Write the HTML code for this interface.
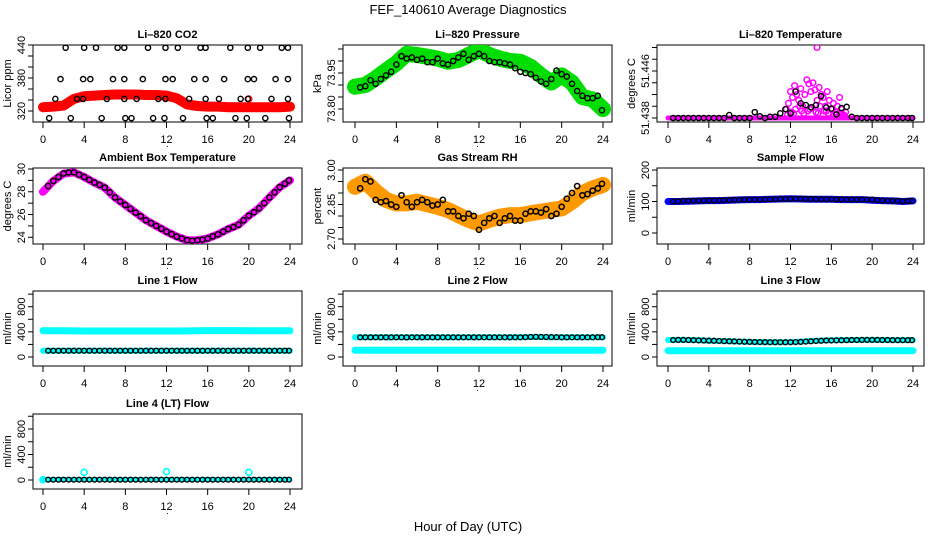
<!DOCTYPE html>
<html><head><meta charset="utf-8"><style>
html,body{margin:0;padding:0;background:#fff;}
svg{display:block;font-family:"Liberation Sans",Arial,sans-serif;}
</style></head><body>
<svg id="chart" width="936" height="540" viewBox="0 0 936 540" xmlns="http://www.w3.org/2000/svg">
<rect width="936" height="540" fill="#fff"/>
<text x="468" y="14" text-anchor="middle" font-size="13">FEF_140610  Average Diagnostics</text>
<text x="468" y="531" text-anchor="middle" font-size="13">Hour of Day (UTC)</text>
</svg>
<script>
// ---------- data ----------
const bandHours = [0,1,2,3,4,5,6,7,8,9,10,11,12,13,14,15,16,17,18,19,20,21,22,23,24];
const markHours = [0.5,1,1.5,2,2.5,3,3.5,4,4.5,5,5.5,6,6.5,7,7.5,8,8.5,9,9.5,10,10.5,11,11.5,12,12.5,13,13.5,14,14.5,15,15.5,16,16.5,17,17.5,18,18.5,19,19.5,20,20.5,21,21.5,22,22.5,23,23.5,23.9];
const xTicks = [0,4,8,12,16,20,24];

const co2Band = [327,328,330,342,347,348,349,350,350,350,349,349,348,343,332,329,328,328,327,327,327,327,327,327,328];
const co2ScatterHours = [2.2,4.0,5.15,7.25,7.9,10.2,11.9,13.1,15.3,15.8,18.2,19.9,21.1,23.2,23.8, 1.7,3.9,4.6,6.8,7.9,9.7,11.9,12.6,14.7,15.8,17.6,19.9,20.5,22.6,23.8, 1.2,3.3,3.9,6.2,7.9,9.1,11.2,11.9,14.2,15.8,17.1,19.2,19.9,22.2,23.8, 0.6,2.7,5.7,8.0,8.6,10.7,11.8,13.6,15.9,16.5,18.7,19.8,21.6,23.9];
const co2ScatterVals = [435,435,435,435,435,435,435,435,435,435,435,435,435,435,435, 378,378,378,378,378,378,378,378,378,378,378,378,378,378,378, 342,342,342,342,342,342,342,342,342,342,342,342,342,342,342, 307,307,307,307,307,307,307,307,307,307,307,307,307,307];

const presBand = [73.893,73.90,73.928,73.96,73.99,74.03,74.025,74.018,74.01,73.997,74.004,74.025,74.046,74.025,74.01,74.0,73.997,73.976,73.94,73.91,73.94,73.91,73.85,73.84,73.80];
const presMarks = [73.89,73.895,73.92,73.905,73.925,73.94,73.955,73.985,74.02,74.01,74.015,74.005,74.01,73.995,73.995,74.01,73.99,73.985,74.0,74.015,74.03,74.005,74.02,74.03,74.02,74.0,73.995,73.995,73.99,73.985,73.97,73.955,73.95,73.945,73.93,73.915,73.905,73.925,73.96,73.945,73.935,73.905,73.875,73.855,73.845,73.845,73.855,73.795];

const tempBand = [51.438,51.438,51.438,51.438,51.438,51.438,51.438,51.438,51.438,51.438,51.438,51.438,51.438,51.438,51.438,51.438,51.438,51.438,51.438,51.438,51.438,51.438,51.438,51.438,51.438];
const tempMarks = [51.438,51.438,51.438,51.438,51.438,51.438,51.438,51.438,51.438,51.438,51.438,51.4385,51.438,51.438,51.438,51.438,51.439,51.4383,51.438,51.4382,51.4382,51.4388,51.4395,51.4388,51.4425,51.4405,51.4402,51.4398,51.4402,51.4417,51.4398,51.4396,51.4386,51.4397,51.4399,51.4382,51.438,51.438,51.438,51.438,51.438,51.438,51.438,51.438,51.438,51.438,51.438,51.438];
const tempScatterHours = [11.6,11.8,12.0,12.2,12.4,12.6,12.8,13.0,13.2,13.4,13.6,13.8,14.0,14.2,14.4,14.6,14.8,15.0,15.2,15.4,15.6,15.8,16.0,16.2,16.4,16.6,16.8,17.0,17.2,17.4, 11.7,12.1,12.5,12.9,13.3,13.7,14.1,14.5,14.9,15.3,15.7,16.1,16.5,16.9,17.3, 12.3,13.1,13.9,14.7,15.5,16.3,17.1, 14.6];
const tempScatterVals = [51.4395,51.4405,51.4425,51.4415,51.4435,51.442,51.4410,51.4430,51.4400,51.4420,51.4445,51.4438,51.4425,51.4440,51.4428,51.4410,51.4432,51.4420,51.4415,51.4400,51.4425,51.4410,51.4395,51.4405,51.4390,51.4400,51.4415,51.4395,51.4385,51.4390, 51.4385,51.4390,51.4395,51.4400,51.4388,51.4392,51.4398,51.4390,51.4400,51.4392,51.4388,51.4395,51.4390,51.4386,51.4384, 51.4388,51.4392,51.4395,51.4388,51.4392,51.4386,51.4384, 51.4500];

const ambBand = [28.0,28.95,29.6,29.7,29.3,28.8,28.36,27.5,26.84,26.17,25.5,25.0,24.5,24.06,23.74,23.74,23.9,24.26,24.73,25.1,25.9,26.55,27.5,28.4,29.0];
const ambMarks = [28.5,28.95,29.3,29.6,29.7,29.7,29.5,29.3,29.05,28.8,28.6,28.36,27.95,27.5,27.15,26.84,26.5,26.17,25.85,25.5,25.25,25.0,24.75,24.5,24.28,24.06,23.9,23.74,23.7,23.74,23.8,23.9,24.08,24.26,24.5,24.73,24.9,25.1,25.5,25.9,26.2,26.55,27.0,27.5,27.95,28.4,28.7,29.0];

const rhBand = [2.927,2.949,2.906,2.87,2.855,2.855,2.862,2.851,2.84,2.826,2.804,2.783,2.768,2.783,2.797,2.804,2.804,2.812,2.819,2.826,2.833,2.862,2.899,2.92,2.935];
const rhMarks = [2.92,2.96,2.95,2.87,2.86,2.865,2.85,2.84,2.89,2.86,2.84,2.86,2.87,2.86,2.845,2.85,2.87,2.82,2.82,2.80,2.79,2.81,2.80,2.74,2.77,2.79,2.80,2.77,2.79,2.80,2.78,2.78,2.81,2.82,2.82,2.815,2.83,2.80,2.81,2.84,2.875,2.90,2.93,2.89,2.895,2.91,2.92,2.94];

const sampleBand = [100,100,101,102,103,103,104,105,106,106,107,108,109,108,107,107,107,106,106,106,104,103,102,100,102];
const sampleMarks = [100,101,102,102,102,102,103,103,103,104,104,104,105,105,106,106,106,106,107,107,107,108,108,108,109,109,108,108,108,107,107,107,107,107,106,106,106,106,106,106,104,103,103,102,102,101,101,102];

const line1UpperBand = [420,418,416,415,414,414,413,413,413,413,413,413,413,414,415,418,420,420,420,420,419,418,418,418,417];
const line1LowerBand = [100,100,100,100,100,100,100,100,100,100,100,100,100,100,100,100,100,100,100,100,100,100,100,100,100];
const line1Marks = [100,100,100,100,100,100,100,100,100,100,100,100,100,100,100,100,100,100,100,100,100,100,100,100,100,100,100,100,100,100,100,100,100,100,100,100,100,100,100,100,100,100,100,100,100,100,100,100];

const line2UpperBand = [313,313,313,313,313,313,313,313,313,313,313,313,313,313,313,313,315,318,318,315,313,313,313,313,313];
const line2LowerBand = [107,107,107,107,107,107,107,107,107,107,107,107,108,108,108,108,108,108,108,108,108,108,108,108,108];
const line2Marks = [313,313,313,313,313,313,313,313,313,312,313,313,313,313,313,313,313,313,313,313,313,313,313,313,313,313,313,313,313,313,313,313,315,318,320,318,318,316,315,313,313,313,313,313,313,313,315,315];

const line3UpperBand = [270,272,270,265,260,255,250,245,240,237,235,235,237,245,255,262,265,268,270,272,272,270,268,268,268];
const line3LowerBand = [100,100,100,100,100,100,100,100,100,100,100,100,100,100,100,100,100,100,100,100,100,100,100,100,100];
const line3Marks = [270,272,272,270,268,265,262,260,258,255,252,250,248,245,242,240,238,237,236,235,235,235,234,235,237,240,245,250,255,258,262,263,265,266,268,270,270,272,272,272,272,270,270,268,268,268,268,268];

const line4Band = [8,8,8,8,8,8,8,8,8,8,8,8,8,8,8,8,8,8,8,8,8,8,8,8,8];
const line4SpikeHours = [0,4,12,20];
const line4SpikeVals = [5,120,130,120];
const line4Marks = [5,5,5,5,5,5,5,5,5,5,5,5,5,5,5,5,5,5,5,5,5,5,5,5,5,5,5,5,5,5,5,5,5,5,5,5,5,5,5,5,5,5,5,5,5,5,5,5];

const co2Ticks = [320,340,360,380,400,420,440], co2Labels = ["320","380","440"];
const presTicks = [73.80,73.85,73.90,73.95,74.00,74.05], presLabels = ["73.80","73.95"];
const tempTicks = [51.438,51.440,51.442,51.444,51.446,51.448,51.450], tempLabels = ["51.438","51.446"];
const ambTicks = [24,25,26,27,28,29,30], ambLabels = ["24","26","28","30"];
const rhTicks = [2.70,2.75,2.80,2.85,2.90,2.95,3.00], rhLabels = ["2.70","2.85","3.00"];
const sampleTicks = [0,50,100,150,200], sampleLabels = ["0","100","200"];
const flowTicks = [0,200,400,600,800,1000], flowLabels = ["0","400","800"];

// ---------- layout ----------
const NS = "http://www.w3.org/2000/svg";
const svg = document.getElementById('chart');
const COLS = [{l:33,r:302,x0:43,x24:290},{l:343,r:612,x0:355,x24:603},{l:657,r:924,x0:668,x24:913}];
const ROWS = [{t:45,b:122},{t:168,b:244},{t:291,b:366},{t:414,b:489}];

function mk(tag, attrs, parent){
  const e = document.createElementNS(NS, tag);
  for (const k in attrs) e.setAttribute(k, attrs[k]);
  (parent||svg).appendChild(e);
  return e;
}

function panel(name, title, ylab, col, row, v1, y1, v2, y2, ticks, labels){
  const C = COLS[col], R = ROWS[row];
  const g = mk('g', {});
  
  
  const xs = h => C.x0 + (C.x24 - C.x0) * h / 24;
  const ys = v => y1 + (v - v1) * (y2 - y1) / (v2 - v1);
  const t = mk('text', {x:(C.l+C.r)/2, y:R.t-7, 'text-anchor':'middle', 'font-size':11, 'font-weight':'bold'}, g);
  t.textContent = title;
  
  
  const box = mk('rect', {x:C.l, y:R.t, width:C.r-C.l, height:R.b-R.t, fill:'none', stroke:'#000', 'stroke-width':1}, g);
  
  
  // x axis
  const xa = mk('g', {}, g);
  
  
  xTicks.forEach(h => {
    mk('line', {x1:xs(h), x2:xs(h), y1:R.b, y2:R.b+6, stroke:'#000'}, xa);
    const tl = mk('text', {x:xs(h), y:R.b+21, 'text-anchor':'middle', 'font-size':11}, xa);
    tl.textContent = h;
  });
  const dot = mk('text', {x:(C.l+C.r)/2, y:R.b+25, 'text-anchor':'middle', 'font-size':9}, xa);
  dot.textContent = '.';
  // y axis
  const ya = mk('g', {}, g);
  
  
  const yTop = ys(ticks[ticks.length-1]), yBot = ys(ticks[0]);
  mk('line', {x1:C.l, x2:C.l, y1:Math.min(yTop,yBot), y2:Math.max(yTop,yBot), stroke:'#000'}, ya);
  ticks.forEach(v => mk('line', {x1:C.l, x2:C.l-5, y1:ys(v), y2:ys(v), stroke:'#000'}, ya));
  labels.forEach(s => {
    const v = parseFloat(s), y = ys(v), x = C.l - 8;
    const tl = mk('text', {x:x, y:y, 'text-anchor':'middle', 'font-size':11, transform:'rotate(-90 '+x+' '+y+')'}, ya);
    tl.textContent = s;
  });
  const lx = C.l - 22, ly = (R.t + R.b)/2;
  const yl = mk('text', {x:lx, y:ly, 'text-anchor':'middle', 'font-size':11, transform:'rotate(-90 '+lx+' '+ly+')'}, g);
  yl.textContent = ylab;
  
  
  const clip = 'clip-' + name;
  const cp = mk('clipPath', {id:clip}, g);
  mk('rect', {x:C.l, y:R.t, width:C.r-C.l, height:R.b-R.t}, cp);
  const plot = mk('g', {'clip-path':'url(#'+clip+')'}, g);
  return {xs, ys, g:plot};
}

function band(P, hours, vals, color, w, name){
  let d = '';
  hours.forEach((h,i) => { if (i < vals.length) d += (i ? 'L' : 'M') + P.xs(h).toFixed(1) + ' ' + P.ys(vals[i]).toFixed(1); });
  const p = mk('path', {d:d, fill:'none', stroke:color, 'stroke-width':w, 'stroke-linecap':'round', 'stroke-linejoin':'round'}, P.g);
  
  
}
function points(P, hours, vals, color, r, sw, name){
  const g = mk('g', {}, P.g);
  
  
  hours.forEach((h,i) => {
    if (i >= vals.length) return;
    const c = mk('circle', {cx:P.xs(h), cy:P.ys(vals[i]), r:r, fill:'none', stroke:color, 'stroke-width':sw}, g);
    
    
  });
}

// ---------- panels ----------
let P;
P = panel('li820-co2','Li\u2013820 CO2','Licor ppm',0,0,320,111,440,45,co2Ticks,co2Labels);
band(P, bandHours, co2Band, '#ff0000', 10, 'co2-band');
points(P, [20], [342], '#ff0000', 3, 1.3, 'co2-outlier');
points(P, co2ScatterHours, co2ScatterVals, '#000', 2.6, 1.4, 'co2-average-points');

P = panel('li820-pressure','Li\u2013820 Pressure','kPa',1,0,73.80,109,73.95,73,presTicks,presLabels);
band(P, bandHours, presBand, '#00dd00', 16, 'pressure-band');
points(P, markHours, presMarks, '#000', 2.6, 1.4, 'pressure-average-points');

P = panel('li820-temperature','Li\u2013820 Temperature','degrees C',2,0,51.438,118,51.446,71,tempTicks,tempLabels);
band(P, bandHours, tempBand, '#ff00ff', 5, 'temperature-band');
points(P, tempScatterHours, tempScatterVals, '#ff00ff', 2.8, 1.5, 'temperature-scatter');
points(P, markHours, tempMarks, '#000', 2.6, 1.4, 'temperature-average-points');

P = panel('ambient-box-temperature','Ambient Box Temperature','degrees C',0,1,24,237.3,30,169,ambTicks,ambLabels);
band(P, bandHours, ambBand, '#ff00ff', 8, 'ambient-band');
points(P, markHours, ambMarks, '#000', 2.6, 1.5, 'ambient-average-points');

P = panel('gas-stream-rh','Gas Stream RH','percent',1,1,2.70,239,3.00,170,rhTicks,rhLabels);
band(P, bandHours, rhBand, '#ff9900', 16, 'rh-band');
points(P, markHours, rhMarks, '#000', 2.6, 1.5, 'rh-average-points');

P = panel('sample-flow','Sample Flow','ml/min',2,1,0,233,200,170,sampleTicks,sampleLabels);
band(P, bandHours, sampleBand, '#0000ff', 7, 'sample-flow-band');
points(P, markHours, sampleMarks, '#000', 2.4, 1.4, 'sample-flow-average-points');

P = panel('line-1-flow','Line 1 Flow','ml/min',0,2,0,357,800,306.7,flowTicks,flowLabels);
band(P, bandHours, line1UpperBand, '#00ffff', 7, 'line1-upper-band');
band(P, bandHours, line1LowerBand, '#00ffff', 6, 'line1-lower-band');
points(P, markHours, line1Marks, '#000', 2.4, 1.4, 'line1-average-points');

P = panel('line-2-flow','Line 2 Flow','ml/min',1,2,0,357,800,306.7,flowTicks,flowLabels);
band(P, bandHours, line2UpperBand, '#00ffff', 6, 'line2-upper-band');
band(P, bandHours, line2LowerBand, '#00ffff', 7, 'line2-lower-band');
points(P, markHours, line2Marks, '#000', 2.4, 1.4, 'line2-average-points');

P = panel('line-3-flow','Line 3 Flow','ml/min',2,2,0,357,800,306.7,flowTicks,flowLabels);
band(P, bandHours, line3UpperBand, '#00ffff', 6, 'line3-upper-band');
band(P, bandHours, line3LowerBand, '#00ffff', 7, 'line3-lower-band');
points(P, markHours, line3Marks, '#000', 2.4, 1.4, 'line3-average-points');

P = panel('line-4-flow','Line 4 (LT) Flow','ml/min',0,3,0,480,800,429,flowTicks,flowLabels);
band(P, bandHours, line4Band, '#00ffff', 5, 'line4-band');
points(P, line4SpikeHours, line4SpikeVals, '#00ffff', 3, 1.6, 'line4-spikes');
points(P, markHours, line4Marks, '#000', 2.4, 1.4, 'line4-average-points');
</script>
</body></html>
